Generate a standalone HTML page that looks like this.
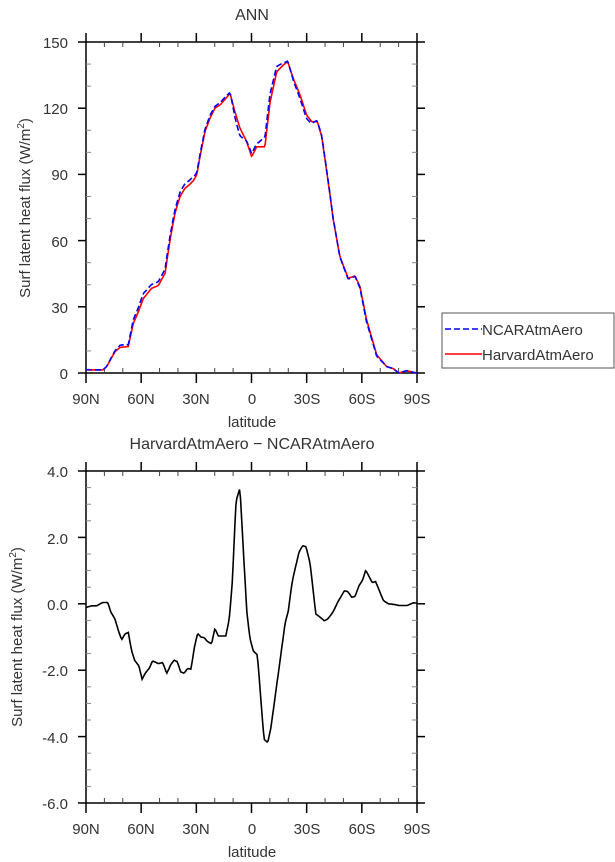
<!DOCTYPE html>
<html><head><meta charset="utf-8"><style>
html,body{margin:0;padding:0;background:#fff;}
svg{display:block;font-family:"Liberation Sans",sans-serif;}
text{fill:#333;}
</style></head><body>
<svg id="s" width="615" height="862" viewBox="0 0 615 862" xmlns="http://www.w3.org/2000/svg">
<text x="252" y="20" font-size="16" text-anchor="middle">ANN</text>
<text x="252" y="449" font-size="16" text-anchor="middle">HarvardAtmAero − NCARAtmAero</text>
<g font-size="15" text-anchor="end">
<text x="68" y="48">150</text><text x="68" y="114">120</text><text x="68" y="180">90</text>
<text x="68" y="247">60</text><text x="68" y="313">30</text><text x="68" y="379">0</text>
<text x="68" y="477">4.0</text><text x="68" y="544">2.0</text><text x="68" y="610">0.0</text>
<text x="68" y="676">-2.0</text><text x="68" y="743">-4.0</text><text x="68" y="809">-6.0</text>
</g>
<g font-size="15" text-anchor="middle">
<text x="86" y="404">90N</text><text x="141" y="404">60N</text><text x="196" y="404">30N</text>
<text x="252" y="404">0</text><text x="307" y="404">30S</text><text x="362" y="404">60S</text><text x="417" y="404">90S</text>
<text x="86" y="834">90N</text><text x="141" y="834">60N</text><text x="196" y="834">30N</text>
<text x="252" y="834">0</text><text x="307" y="834">30S</text><text x="362" y="834">60S</text><text x="417" y="834">90S</text>
<text x="252" y="427" font-size="15">latitude</text>
<text x="252" y="857" font-size="15">latitude</text>
</g>
<text transform="translate(30,208) rotate(-90)" font-size="15" text-anchor="middle">Surf latent heat flux (W/m<tspan dy="-6" font-size="10">2</tspan><tspan dy="6">)</tspan></text>
<text transform="translate(22,637) rotate(-90)" font-size="15" text-anchor="middle">Surf latent heat flux (W/m<tspan dy="-6" font-size="10">2</tspan><tspan dy="6">)</tspan></text>
<rect x="442" y="313" width="172" height="55" fill="none" stroke="#555" stroke-width="1"/>
<line x1="445" y1="329" x2="482" y2="329" stroke="#0000ff" stroke-width="1.6" stroke-dasharray="6,3"/>
<line x1="445" y1="354" x2="482" y2="354" stroke="#ff0000" stroke-width="1.6"/>
<text x="482" y="335" font-size="15">NCARAtmAero</text>
<text x="482" y="360" font-size="15">HarvardAtmAero</text>
<g id="dyn"></g>
</svg>
<script>
var H=[[0,1.4],[9.1,1.4],[11.2,2.9],[15.8,9.7],[18.5,11.6],[23,12],[25.7,22.5],[28.5,27.8],[31.2,33.8],[35.7,38.4],[39.3,39.6],[43,45.2],[45.7,60.3],[48.4,72.4],[51.1,79.9],[53.8,83.7],[56.6,85.6],[58.4,87.2],[60.2,89.7],[62,98],[64.7,109.4],[67.4,115.4],[70.1,120],[72.9,121.5],[75.6,124],[78.3,126.8],[81,118.4],[83.7,111],[87.4,104.8],[90.1,98],[92.8,102.5],[97.3,102.5],[100,122.2],[103.7,136.5],[107.3,139.6],[109.7,141.1],[112.7,133.5],[116.4,126],[120,116.9],[122.7,113.9],[125.8,113.9],[128.2,107.1],[131.8,86],[134.5,69.3],[138.1,52.7],[142.6,42.9],[146.3,44],[149,39.1],[152.6,24],[158.1,8.2],[163.5,2.9],[167.1,2],[169.9,0],[174.4,1],[180,0]];
var D=[[0,-0.11],[3.1,-0.06],[5.8,-0.06],[9.1,0.04],[11.8,0.04],[13.6,-0.26],[15.8,-0.46],[17.6,-0.81],[19.4,-1.08],[21.2,-0.91],[23,-0.86],[24.8,-1.42],[26.6,-1.72],[28.8,-1.87],[30.5,-2.27],[32.5,-2.07],[34.4,-1.94],[36.2,-1.72],[39.3,-1.8],[41.7,-1.77],[43.9,-2.1],[46.2,-1.82],[48,-1.7],[49.6,-1.74],[51.5,-2.05],[53.3,-2.09],[55.3,-1.95],[57.1,-1.97],[58.9,-1.32],[60.7,-0.89],[62.5,-1.0],[64.3,-1.02],[66.1,-1.14],[68.3,-1.2],[70.1,-0.74],[71.9,-0.97],[76,-0.97],[77.9,-0.46],[79.6,0.69],[81.6,3.1],[83.7,3.48],[85.2,2.0],[87.4,-0.21],[89.2,-1.06],[91,-1.42],[93.2,-1.54],[95,-2.82],[96.8,-4.08],[98.8,-4.18],[100.6,-3.72],[102.8,-2.82],[106,-1.52],[108.2,-0.61],[110,-0.21],[112.2,0.69],[115.8,1.55],[117.8,1.75],[119.6,1.72],[121.8,1.24],[125,-0.31],[126.8,-0.38],[129.6,-0.51],[131.4,-0.46],[134.2,-0.26],[136.9,0.05],[140.5,0.39],[142.3,0.37],[144.5,0.2],[146.3,0.22],[148.5,0.55],[150.3,0.7],[152.1,1.01],[155.7,0.64],[157.5,0.67],[161.7,0.1],[164.4,0],[167.5,-0.02],[170.2,-0.05],[174.7,-0.05],[178,0.03],[180,0.02]];
function interp(a,x){for(var i=0;i<a.length-1;i++){if(x>=a[i][0]&&x<=a[i+1][0]){var t=(x-a[i][0])/(a[i+1][0]-a[i][0]);return a[i][1]+t*(a[i+1][1]-a[i][1]);}}return a[a.length-1][1];}
var L=86,R=417,W=R-L;
function px(x){return L+x*W/180;}
var out='';
function frame(top,bot,ymin,ymax,maj,mn){
 out+='<rect x="'+L+'" y="'+top+'" width="'+W+'" height="'+(bot-top)+'" fill="none" stroke="#000" stroke-width="1.5"/>';
 for(var x=0;x<=180;x+=10){var X=px(x);
  if(x%30==0){out+='<line x1="'+X+'" y1="'+(top-9)+'" x2="'+X+'" y2="'+top+'" stroke="#000" stroke-width="1.5"/><line x1="'+X+'" y1="'+bot+'" x2="'+X+'" y2="'+(bot+10)+'" stroke="#000" stroke-width="1.5"/>';}
  else{out+='<line x1="'+X+'" y1="'+top+'" x2="'+X+'" y2="'+(top+5)+'" stroke="#444"/><line x1="'+X+'" y1="'+bot+'" x2="'+X+'" y2="'+(bot-5)+'" stroke="#444"/>';}}
 var n=Math.round((ymax-ymin)/mn);
 for(var i=0;i<=n;i++){var v=ymin+i*mn;var Y=bot-(v-ymin)/(ymax-ymin)*(bot-top);
  if(Math.abs(v/maj-Math.round(v/maj))<1e-6){out+='<line x1="'+(L-8)+'" y1="'+Y+'" x2="'+L+'" y2="'+Y+'" stroke="#000" stroke-width="1.5"/><line x1="'+R+'" y1="'+Y+'" x2="'+(R+8)+'" y2="'+Y+'" stroke="#000" stroke-width="1.5"/>';}
  else{out+='<line x1="'+L+'" y1="'+Y+'" x2="'+(L+5)+'" y2="'+Y+'" stroke="#888"/><line x1="'+R+'" y1="'+Y+'" x2="'+(R-5)+'" y2="'+Y+'" stroke="#888"/>';}}
}
frame(42,373,0,150,30,10);
frame(471,803,-6,4,2,0.5);
function poly(f,top,bot,ymin,ymax,col,dash){var p=[];for(var x=0;x<=180;x+=0.5){var v=f(x);p.push(px(x).toFixed(1)+','+(bot-(v-ymin)/(ymax-ymin)*(bot-top)).toFixed(1));}
 out+='<polyline points="'+p.join(' ')+'" fill="none" stroke="'+col+'" stroke-width="1.6"'+(dash?' stroke-dasharray="6,3"':'')+'/>';}
poly(function(x){return interp(H,x);},42,373,0,150,'#ff0000',false);
poly(function(x){return interp(H,x)-interp(D,x);},42,373,0,150,'#0000ff',true);
poly(function(x){return interp(D,x);},471,803,-6,4,'#000',false);
document.getElementById('dyn').innerHTML=out;
</script>
</body></html>
